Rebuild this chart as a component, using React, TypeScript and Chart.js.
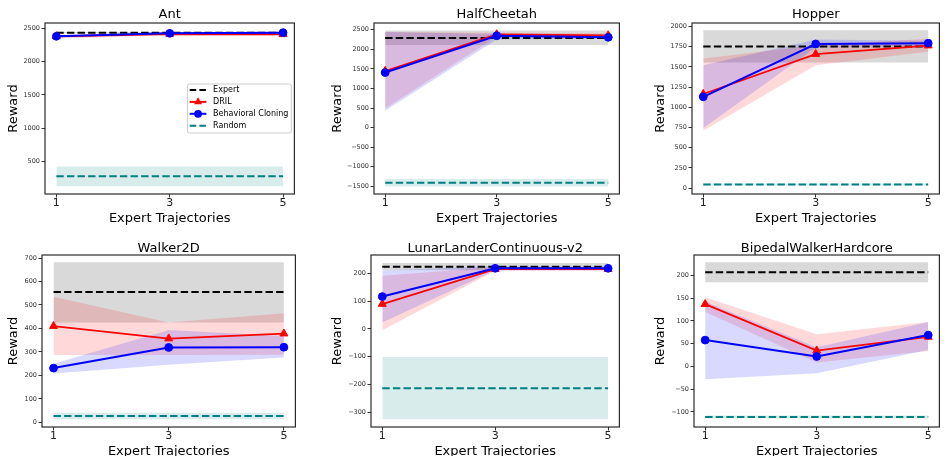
import React, { useEffect, useRef } from 'react';
import { Chart, registerables } from 'chart.js';

Chart.register(...registerables);
Chart.defaults.font.family = '"DejaVu Sans", sans-serif';

// ---------- DATA ----------
const trajectories = [1, 3, 5];

// Ant
const antExpert = [2435, 2435, 2435];
const antExpertLow = [2427, 2427, 2427];
const antExpertHigh = [2443, 2443, 2443];
const antDril = [2380, 2415, 2410];
const antDrilLow = [2345, 2395, 2390];
const antDrilHigh = [2400, 2435, 2430];
const antBc = [2380, 2425, 2435];
const antBcLow = [2365, 2410, 2420];
const antBcHigh = [2395, 2440, 2450];
const antRandom = [275, 275, 275];
const antRandomLow = [125, 125, 125];
const antRandomHigh = [425, 425, 425];
const antTicks = [500, 1000, 1500, 2000, 2500];

// HalfCheetah
const hcExpert = [2290, 2290, 2290];
const hcExpertLow = [2110, 2110, 2110];
const hcExpertHigh = [2480, 2480, 2480];
const hcDril = [1445, 2380, 2355];
const hcDrilLow = [490, 2320, 2310];
const hcDrilHigh = [2440, 2420, 2400];
const hcBc = [1405, 2345, 2305];
const hcBcLow = [430, 2250, 2270];
const hcBcHigh = [2440, 2390, 2340];
const hcRandom = [-1410, -1410, -1410];
const hcRandomLow = [-1505, -1505, -1505];
const hcRandomHigh = [-1310, -1310, -1310];
const hcTicks = [-1500, -1000, -500, 0, 500, 1000, 1500, 2000, 2500];

// Hopper
const hopExpert = [1755, 1755, 1755];
const hopExpertLow = [1555, 1555, 1555];
const hopExpertHigh = [1955, 1955, 1955];
const hopDril = [1165, 1660, 1765];
const hopDrilLow = [710, 1520, 1690];
const hopDrilHigh = [1605, 1770, 1850];
const hopBc = [1130, 1785, 1795];
const hopBcLow = [740, 1740, 1760];
const hopBcHigh = [1520, 1840, 1825];
const hopRandom = [45, 45, 45];
const hopRandomLow = [35, 35, 35];
const hopRandomHigh = [55, 55, 55];
const hopTicks = [0, 250, 500, 750, 1000, 1250, 1500, 1750, 2000];

// Walker2D
const wkExpert = [555, 555, 555];
const wkExpertLow = [425, 425, 425];
const wkExpertHigh = [682, 682, 682];
const wkDril = [410, 357, 378];
const wkDrilLow = [287, 287, 288];
const wkDrilHigh = [535, 425, 465];
const wkBc = [231, 319, 320];
const wkBcLow = [208, 245, 276];
const wkBcHigh = [250, 393, 368];
const wkRandom = [27, 27, 27];
const wkRandomLow = [13, 13, 13];
const wkRandomHigh = [41, 41, 41];
const wkTicks = [0, 100, 200, 300, 400, 500, 600, 700];

// LunarLanderContinuous-v2
const llExpert = [225, 225, 225];
const llExpertLow = [213, 213, 213];
const llExpertHigh = [238, 238, 238];
const llDril = [90, 216, 216];
const llDrilLow = [-5, 210, 210];
const llDrilHigh = [192, 224, 224];
const llBc = [117, 219, 219];
const llBcLow = [23, 212, 212];
const llBcHigh = [212, 226, 226];
const llRandom = [-214, -214, -214];
const llRandomLow = [-326, -326, -326];
const llRandomHigh = [-101, -101, -101];
const llTicks = [-300, -200, -100, 0, 100, 200];

// BipedalWalkerHardcore
const bwExpert = [207, 207, 207];
const bwExpertLow = [185, 185, 185];
const bwExpertHigh = [229, 229, 229];
const bwDril = [137, 35, 65];
const bwDrilLow = [120, 9, 34];
const bwDrilHigh = [152, 71, 98];
const bwBc = [58, 22, 69];
const bwBcLow = [-28, -15, 36];
const bwBcHigh = [142, 42, 98];
const bwRandom = [-111, -111, -111];
const bwRandomLow = [-114, -114, -114];
const bwRandomHigh = [-108, -108, -108];
const bwTicks = [-100, -50, 0, 50, 100, 150, 200];

const panelData = [
  { title: 'Ant', expert: antExpert, expertLow: antExpertLow, expertHigh: antExpertHigh, dril: antDril, drilLow: antDrilLow, drilHigh: antDrilHigh, bc: antBc, bcLow: antBcLow, bcHigh: antBcHigh, random: antRandom, randomLow: antRandomLow, randomHigh: antRandomHigh, yMin: 10, yMax: 2580, yTicks: antTicks, legend: true },
  { title: 'HalfCheetah', expert: hcExpert, expertLow: hcExpertLow, expertHigh: hcExpertHigh, dril: hcDril, drilLow: hcDrilLow, drilHigh: hcDrilHigh, bc: hcBc, bcLow: hcBcLow, bcHigh: hcBcHigh, random: hcRandom, randomLow: hcRandomLow, randomHigh: hcRandomHigh, yMin: -1695, yMax: 2670, yTicks: hcTicks, legend: false },
  { title: 'Hopper', expert: hopExpert, expertLow: hopExpertLow, expertHigh: hopExpertHigh, dril: hopDril, drilLow: hopDrilLow, drilHigh: hopDrilHigh, bc: hopBc, bcLow: hopBcLow, bcHigh: hopBcHigh, random: hopRandom, randomLow: hopRandomLow, randomHigh: hopRandomHigh, yMin: -74, yMax: 2045, yTicks: hopTicks, legend: false },
  { title: 'Walker2D', expert: wkExpert, expertLow: wkExpertLow, expertHigh: wkExpertHigh, dril: wkDril, drilLow: wkDrilLow, drilHigh: wkDrilHigh, bc: wkBc, bcLow: wkBcLow, bcHigh: wkBcHigh, random: wkRandom, randomLow: wkRandomLow, randomHigh: wkRandomHigh, yMin: -20, yMax: 713, yTicks: wkTicks, legend: false },
  { title: 'LunarLanderContinuous-v2', expert: llExpert, expertLow: llExpertLow, expertHigh: llExpertHigh, dril: llDril, drilLow: llDrilLow, drilHigh: llDrilHigh, bc: llBc, bcLow: llBcLow, bcHigh: llBcHigh, random: llRandom, randomLow: llRandomLow, randomHigh: llRandomHigh, yMin: -354, yMax: 267, yTicks: llTicks, legend: false },
  { title: 'BipedalWalkerHardcore', expert: bwExpert, expertLow: bwExpertLow, expertHigh: bwExpertHigh, dril: bwDril, drilLow: bwDrilLow, drilHigh: bwDrilHigh, bc: bwBc, bcLow: bwBcLow, bcHigh: bwBcHigh, random: bwRandom, randomLow: bwRandomLow, randomHigh: bwRandomHigh, yMin: -133, yMax: 245, yTicks: bwTicks, legend: false },
];

// ---------- LAYOUT (plot-area boxes in page pixels) ----------
const panelBoxes = [
  { left: 45, top: 23, right: 298, bottom: 194, yw: 44, yTitlePad: 6, titlePadTop: 8.5, titlePadBottom: 1.5 },
  { left: 374, top: 23, right: 623, bottom: 194, yw: 44, yTitlePad: 1, titlePadTop: 8.5, titlePadBottom: 1.5 },
  { left: 692, top: 23, right: 943, bottom: 194, yw: 44, yTitlePad: 6, titlePadTop: 8.5, titlePadBottom: 1.5 },
  { left: 42, top: 255, right: 299, bottom: 427, yw: 42, yTitlePad: 7.5, titlePadTop: 10, titlePadBottom: 0 },
  { left: 371, top: 255, right: 623, bottom: 427, yw: 44, yTitlePad: 4, titlePadTop: 10, titlePadBottom: 0 },
  { left: 694, top: 255, right: 943, bottom: 427, yw: 44, yTitlePad: 4, titlePadTop: 10, titlePadBottom: 0 },
];
const TITLE_H = 23;
const XAXIS_H = 32;
const RIGHT_PAD = 2;

const RED = '#ff0000';
const BLUE = '#0000ff';
const TEAL = '#008080';
const DASH = [7.4, 3.2];

const pts = (ys: number[]) => trajectories.map((x, i) => ({ x, y: ys[i] }));
const fmt = (v: number) => (v < 0 ? '\u2212' + Math.abs(v) : String(v));

function buildDatasets(p: any) {
  const band = (hi: number[], lo: number[], color: string, name: string) => [
    { label: name + ' hi', data: pts(hi), borderWidth: 0, pointRadius: 0, fill: '+1', backgroundColor: color, borderColor: 'transparent' },
    { label: name + ' lo', data: pts(lo), borderWidth: 0, pointRadius: 0, fill: false, borderColor: 'transparent' },
  ];
  return [
    { label: 'Random', data: pts(p.random), borderColor: TEAL, borderWidth: 2, borderDash: DASH, pointRadius: 0, fill: false },
    { label: 'Behavioral Cloning', data: pts(p.bc), borderColor: BLUE, borderWidth: 2, pointStyle: 'circle', pointRadius: 3.9, pointBackgroundColor: BLUE, pointBorderColor: BLUE, pointBorderWidth: 1, fill: false },
    { label: 'DRIL', data: pts(p.dril), borderColor: RED, borderWidth: 1.8, pointStyle: 'triangle', pointRadius: 4.6, pointBackgroundColor: RED, pointBorderColor: RED, pointBorderWidth: 1, fill: false },
    { label: 'Expert', data: pts(p.expert), borderColor: '#000', borderWidth: 2, borderDash: DASH, pointRadius: 0, fill: false },
    ...band(p.randomHigh, p.randomLow, 'rgba(0,128,128,0.15)', 'random'),
    ...band(p.bcHigh, p.bcLow, 'rgba(0,0,255,0.15)', 'bc'),
    ...band(p.drilHigh, p.drilLow, 'rgba(255,0,0,0.15)', 'dril'),
    ...band(p.expertHigh, p.expertLow, 'rgba(128,128,128,0.3)', 'expert'),
  ];
}

const framePlugin = {
  id: 'frame',
  afterDatasetsDraw(chart: any) {
    const { ctx, chartArea: a } = chart;
    ctx.save();
    ctx.strokeStyle = '#2b2b2b';
    ctx.lineWidth = 1.2;
    ctx.setLineDash([]);
    ctx.strokeRect(a.left, a.top, a.right - a.left, a.bottom - a.top);
    ctx.restore();
  },
};

const legendEntries = [
  { label: 'Expert', color: '#000', dash: true, marker: '' },
  { label: 'DRIL', color: RED, dash: false, marker: 'triangle' },
  { label: 'Behavioral Cloning', color: BLUE, dash: false, marker: 'circle' },
  { label: 'Random', color: TEAL, dash: true, marker: '' },
];

const legendPlugin = {
  id: 'insideLegend',
  afterDraw(chart: any) {
    const { ctx, chartArea: a } = chart;
    const bx = a.right - 107;
    const by = a.top + 61;
    const bw = 104;
    const bh = 49;
    const r = 2;
    ctx.save();
    ctx.beginPath();
    ctx.moveTo(bx + r, by);
    ctx.lineTo(bx + bw - r, by);
    ctx.arcTo(bx + bw, by, bx + bw, by + r, r);
    ctx.lineTo(bx + bw, by + bh - r);
    ctx.arcTo(bx + bw, by + bh, bx + bw - r, by + bh, r);
    ctx.lineTo(bx + r, by + bh);
    ctx.arcTo(bx, by + bh, bx, by + bh - r, r);
    ctx.lineTo(bx, by + r);
    ctx.arcTo(bx, by, bx + r, by, r);
    ctx.closePath();
    ctx.fillStyle = 'rgba(255,255,255,0.8)';
    ctx.fill();
    ctx.strokeStyle = '#cccccc';
    ctx.lineWidth = 1;
    ctx.stroke();

    legendEntries.forEach((e, i) => {
      const y = a.top + 67 + i * 11.9;
      const x0 = a.right - 104.7;
      const x1 = a.right - 88;
      const xm = (x0 + x1) / 2;
      ctx.strokeStyle = e.color;
      ctx.lineWidth = 2;
      ctx.setLineDash(e.dash ? [6.5, 3.2] : []);
      ctx.beginPath();
      ctx.moveTo(x0, y);
      ctx.lineTo(x1, y);
      ctx.stroke();
      ctx.setLineDash([]);
      ctx.fillStyle = e.color;
      if (e.marker === 'circle') {
        ctx.beginPath();
        ctx.arc(xm, y, 3.9, 0, Math.PI * 2);
        ctx.fill();
      } else if (e.marker === 'triangle') {
        const rr = 4.6;
        ctx.beginPath();
        ctx.moveTo(xm, y - rr);
        ctx.lineTo(xm + rr * Math.sin((2 * Math.PI) / 3), y + rr * 0.5);
        ctx.lineTo(xm - rr * Math.sin((2 * Math.PI) / 3), y + rr * 0.5);
        ctx.closePath();
        ctx.fill();
      }
      ctx.fillStyle = '#000';
      ctx.font = '8px "DejaVu Sans"';
      ctx.textBaseline = 'middle';
      ctx.textAlign = 'left';
      ctx.fillText(e.label, a.right - 81.3, y);
    });
    ctx.restore();
  },
};

function makeConfig(p: any, b: any): any {
  return {
    type: 'line',
    data: { datasets: buildDatasets(p) },
    plugins: p.legend ? [framePlugin, legendPlugin] : [framePlugin],
    options: {
      animation: false,
      responsive: false,
      devicePixelRatio: 1,
      events: [],
      layout: { padding: { left: 0, top: 0, right: RIGHT_PAD, bottom: 0 } },
      elements: { line: { tension: 0 } },
      plugins: {
        legend: { display: false },
        tooltip: { enabled: false },
        filler: { drawTime: 'beforeDatasetsDraw' },
        title: {
          display: true,
          text: p.title,
          fullSize: false,
          color: '#000',
          font: { size: 13, weight: 'normal', lineHeight: 1 },
          padding: { top: b.titlePadTop, bottom: b.titlePadBottom },
        },
      },
      scales: {
        x: {
          type: 'linear',
          min: 0.8,
          max: 5.2,
          afterBuildTicks: (s: any) => {
            s.ticks = trajectories.map((v) => ({ value: v }));
          },
          afterFit: (s: any) => {
            s.height = XAXIS_H;
          },
          ticks: {
            autoSkip: false,
            maxRotation: 0,
            padding: 0,
            color: '#222',
            font: { size: 11, lineHeight: 1 },
            callback: (v: number) => String(v),
          },
          grid: { display: true, drawOnChartArea: false, drawTicks: true, tickLength: 3.5, tickColor: '#333', tickWidth: 1 },
          border: { display: false },
          title: {
            display: true,
            text: 'Expert Trajectories',
            color: '#000',
            font: { size: 13, lineHeight: 1 },
            padding: { top: 0, bottom: 0.5 },
          },
        },
        y: {
          type: 'linear',
          min: p.yMin,
          max: p.yMax,
          afterBuildTicks: (s: any) => {
            s.ticks = p.yTicks.map((v: number) => ({ value: v }));
          },
          afterFit: (s: any) => {
            s.width = b.yw;
          },
          ticks: {
            autoSkip: false,
            padding: 1.5,
            color: '#333',
            font: { size: 6.5 },
            callback: (v: number) => fmt(v),
          },
          grid: { display: true, drawOnChartArea: false, drawTicks: true, tickLength: 3.5, tickColor: '#333', tickWidth: 1 },
          border: { display: false },
          title: {
            display: true,
            text: 'Reward',
            color: '#000',
            font: { size: 13, lineHeight: 1 },
            padding: { top: b.yTitlePad, bottom: 0 },
          },
        },
      },
    },
  };
}

export default function App() {
  const refs = useRef<(HTMLCanvasElement | null)[]>([]);

  useEffect(() => {
    const charts: Chart[] = [];
    panelData.forEach((p, i) => {
      const c = refs.current[i];
      if (!c) return;
      charts.push(new Chart(c, makeConfig(p, panelBoxes[i])));
    });
    return () => charts.forEach((ch) => ch.destroy());
  }, []);

  return (
    <div style={{ position: 'absolute', left: 0, top: 0, width: 948, height: 456, overflow: 'hidden', background: '#fff' }}>
      {panelBoxes.map((b, i) => {
        const left = b.left - b.yw;
        const top = b.top - TITLE_H;
        const w = b.right + RIGHT_PAD - left;
        const h = b.bottom + XAXIS_H - top;
        return (
          <canvas
            key={i}
            ref={(el) => {
              refs.current[i] = el;
            }}
            width={w}
            height={h}
            style={{ position: 'absolute', left, top, width: w, height: h }}
          />
        );
      })}
    </div>
  );
}
